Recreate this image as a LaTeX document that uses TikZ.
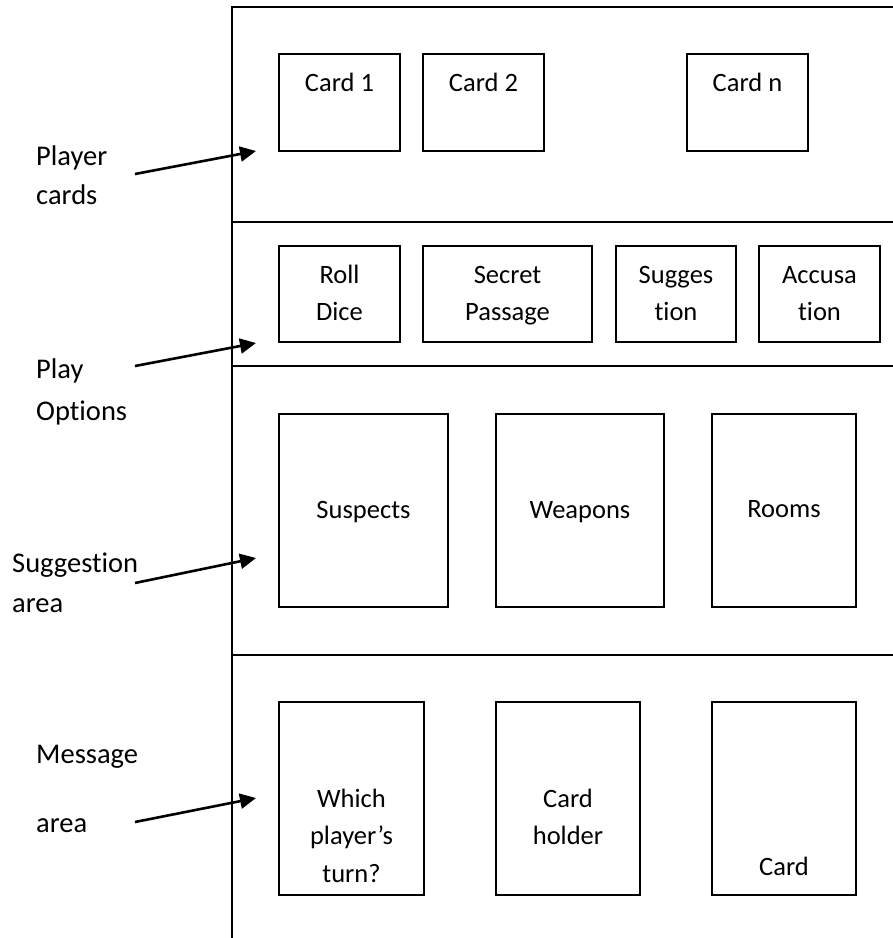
\documentclass[tikz,border=0pt]{standalone}
\usepackage{fontspec}
\setmainfont[Ligatures=NoCommon]{Carlito}
\usetikzlibrary{arrows.meta}
\tikzset{
  frame/.style={line width=2pt, line cap=rect},
  cardbox/.style={draw, line width=2pt},
  boxtxt/.style={font=\fontsize{26.5}{30}\selectfont, anchor=base, inner sep=0pt},
  lbltxt/.style={font=\fontsize{28.5}{32}\selectfont, anchor=base west, inner sep=0pt},
  pointer/.style={line width=2.6pt, -{Triangle[length=16pt,width=15pt]}}
}
\begin{document}
\begin{tikzpicture}[x=1pt,y=-1pt]
\useasboundingbox (0,0) rectangle (893,938);
% frame lines
\draw[frame] (893,7) -- (232,7) -- (232,938);
\draw[frame] (232,222) -- (893,222);
\draw[frame] (232,366) -- (893,366);
\draw[frame] (232,655) -- (893,655);

% row 1: player cards
\draw[cardbox] (279,54) rectangle (400,151);
\draw[cardbox] (423,54) rectangle (544,151);
\draw[cardbox] (687,54) rectangle (808,151);
\node[boxtxt] (c1) at (339.5,91) {Card 1};
\node[boxtxt] (c2) at (483.5,91) {Card 2};
\node[boxtxt] (cn) at (747.5,91) {Card n};

% row 2: play options
\draw[cardbox] (279,246) rectangle (400,342);
\draw[cardbox] (423,246) rectangle (592,342);
\draw[cardbox] (616,246) rectangle (736,342);
\draw[cardbox] (759,246) rectangle (880,342);
\node[boxtxt] (rd1) at (339.5,283) {Roll};
\node[boxtxt] (rd2) at (339.5,320) {Dice};
\node[boxtxt] (sp1) at (507.5,283) {Secret};
\node[boxtxt] (sp2) at (507.5,320) {Passage};
\node[boxtxt] (sg1) at (676,283) {Sugges};
\node[boxtxt] (sg2) at (676,320) {tion};
\node[boxtxt] (ac1) at (819.5,283) {Accusa};
\node[boxtxt] (ac2) at (819.5,320) {tion};

% row 3: suggestion area
\draw[cardbox] (279,414) rectangle (448,607);
\draw[cardbox] (496,414) rectangle (664,607);
\draw[cardbox] (712,414) rectangle (856,607);
\node[boxtxt] (sus) at (363.5,518) {Suspects};
\node[boxtxt] (wea) at (580,518) {Weapons};
\node[boxtxt] (roo) at (784,517) {Rooms};

% row 4: message area
\draw[cardbox] (279,702) rectangle (424,895);
\draw[cardbox] (496,702) rectangle (640,895);
\draw[cardbox] (712,702) rectangle (856,895);
\node[boxtxt] (wp1) at (351.5,807) {Which};
\node[boxtxt] (wp2) at (351.5,844) {player’s};
\node[boxtxt] (wp3) at (351.5,882) {turn?};
\node[boxtxt] (ch1) at (568,807) {Card};
\node[boxtxt] (ch2) at (568,844) {holder};
\node[boxtxt] (cd) at (784,875) {Card};

% left labels
\node[lbltxt] (l1a) at (36,165) {Player};
\node[lbltxt] (l1b) at (36,204) {cards};
\node[lbltxt] (l2a) at (36,378) {Play};
\node[lbltxt] (l2b) at (36,420) {Options};
\node[lbltxt] (l3a) at (12,572) {Suggestion};
\node[lbltxt] (l3b) at (12,612) {area};
\node[lbltxt] (l4a) at (36,763) {Message};
\node[lbltxt] (l4b) at (36,832) {area};

% arrows
\coordinate (a1s) at (135,174); \coordinate (a1e) at (256,151);
\coordinate (a2s) at (135,366); \coordinate (a2e) at (256,343);
\coordinate (a3s) at (135,583); \coordinate (a3e) at (256,558);
\coordinate (a4s) at (135,822); \coordinate (a4e) at (256,798);
\draw[pointer] (a1s) -- (a1e);
\draw[pointer] (a2s) -- (a2e);
\draw[pointer] (a3s) -- (a3e);
\draw[pointer] (a4s) -- (a4e);
\end{tikzpicture}
\end{document}
